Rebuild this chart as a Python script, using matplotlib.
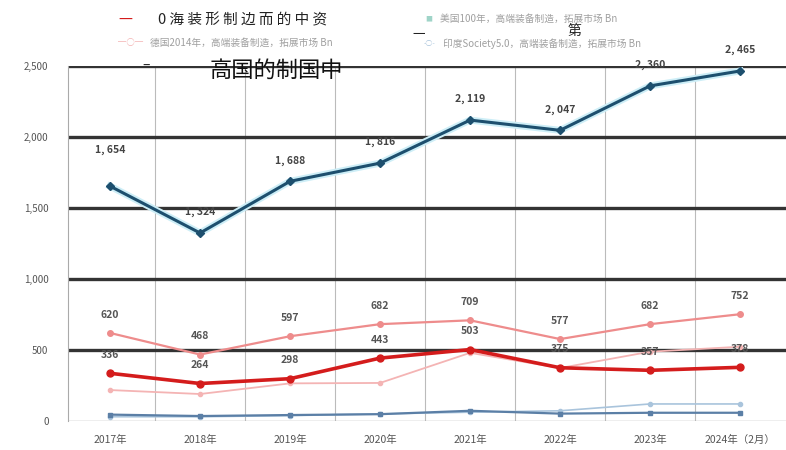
import matplotlib.pyplot as plt
import numpy as np

plt.rcParams['font.family'] = ['Noto Sans CJK JP', 'DejaVu Sans']

# datos
years = ["2017年", "2018年", "2019年", "2020年", "2021年", "2022年", "2023年", "2024年（2月）"]
navy = [1654, 1324, 1688, 1816, 2119, 2047, 2360, 2465]
pink = [620, 468, 597, 682, 709, 577, 682, 752]
red = [336, 264, 298, 443, 503, 375, 357, 378]
faint = [218, 190, 265, 268, 480, 373, 488, 523]
steel = [45, 35, 42, 48, 72, 52, 58, 58]
lightblue = [30, 30, 38, 50, 62, 72, 120, 120]
yticks = [0, 500, 1000, 1500, 2000, 2500]

fig = plt.figure(figsize=(7.86, 4.5), dpi=100)
ax = fig.add_axes([68/786, 1-421/450, (786-68)/786, (421-66)/450])
x = np.arange(len(years))

# lineas
ax.plot(x, lightblue, color='#a9c4dc', lw=1.2, marker='o', ms=3, zorder=3)
ax.plot(x, steel, color='#5b7fa6', lw=1.6, marker='s', ms=3, zorder=3)
ax.plot(x, faint, color='#f4b4b4', lw=1.3, marker='o', ms=3, zorder=3)
ax.plot(x, pink, color='#ee8c8c', lw=1.6, marker='o', ms=4, zorder=4)
ax.plot(x, red, color='#d41c1c', lw=2.6, marker='o', ms=5, zorder=5)
ax.plot(x, navy, color='#cdeef7', lw=5, zorder=4)
ax.plot(x, navy, color='#1d4f6e', lw=2.2, marker='D', ms=4, zorder=5)

def fmt(v):
    return "{:,}".format(v).replace(",", ", ")

for i, v in enumerate(navy):
    off = 24 if i == 0 else 13
    ax.annotate(fmt(v), (i, v), textcoords='offset points', xytext=(0, off),
                ha='center', fontsize=7.5, color='#444444', fontweight='bold')
for i, v in enumerate(pink):
    ax.annotate(str(v), (i, v), textcoords='offset points', xytext=(0, 11),
                ha='center', fontsize=7.5, color='#555555', fontweight='bold')
for i, v in enumerate(red):
    ax.annotate(str(v), (i, v), textcoords='offset points', xytext=(0, 11),
                ha='center', fontsize=7.5, color='#555555', fontweight='bold')

# rejilla
for y in yticks[1:]:
    ax.axhline(y, color='#333333', lw=2.4, zorder=2)
ax.axhline(0, color='#aaaaaa', lw=1, zorder=2)
for b in np.arange(0.5, 7, 1):
    ax.axvline(b, color='#bbbbbb', lw=0.8, zorder=1)

ax.set_xlim(-0.467, 7.51)
ax.set_ylim(0, 2500)
ax.set_yticks(yticks)
ax.set_yticklabels(["{:,}".format(v) for v in yticks], fontsize=7, color='#555555')
ax.set_xticks(x)
ax.set_xticklabels(years, fontsize=7.5, color='#555555')
ax.tick_params(length=0, pad=10)
ax.tick_params(axis='y', pad=14)
for s in ['top', 'right', 'bottom']:
    ax.spines[s].set_visible(False)
ax.spines['left'].set_color('#aaaaaa')

# leyenda
fig.text(118/786, 1-20/450, "一", color='#d41c1c', fontsize=10, va='center')
fig.text(158/786, 1-20/450, "0 海 装 形 制 边 而 的 中 资", color='#222222', fontsize=10.5, va='center')
fig.text(118/786, 1-43/450, "─○─", color='#f4b4b4', fontsize=6, va='center')
fig.text(150/786, 1-43/450, "德国2014年，高端装备制造，拓展市场 Bn", color='#888888', fontsize=7,
         va='center', alpha=0.8)
fig.text(425/786, 1-19/450, "■", color='#9fd4c8', fontsize=5, va='center')
fig.text(440/786, 1-19/450, "美国100年，高端装备制造，拓展市场 Bn", color='#888888', fontsize=7,
         va='center', alpha=0.8)
fig.text(424/786, 1-44/450, "-○-", color='#a9c4dc', fontsize=5, va='center')
fig.text(443/786, 1-44/450, "印度Society5.0，高端装备制造，拓展市场 Bn", color='#888888', fontsize=7,
         va='center', alpha=0.8)
fig.text(412/786, 1-34/450, "一", color='#222222', fontsize=9, va='center')
fig.text(568/786, 1-31/450, "第", color='#222222', fontsize=10, va='center')
fig.text(142/786, 1-66/450, "–", color='#222222', fontsize=10, va='center')
fig.text(210/786, 1-70/450, "高国的制国中", color='#111111', fontsize=16, va='center', zorder=10)

plt.savefig("out.png", dpi=100)
